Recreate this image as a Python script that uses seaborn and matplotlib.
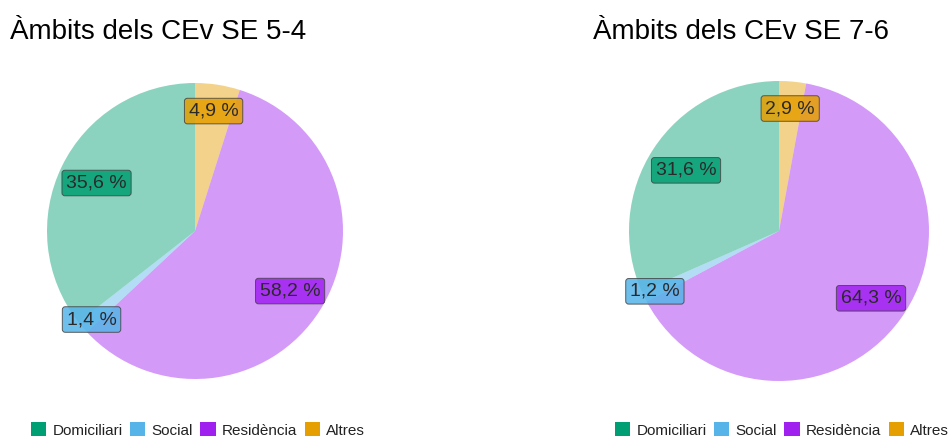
import matplotlib
matplotlib.use("Agg")
import matplotlib.pyplot as plt
from matplotlib.patches import Patch
import numpy as np
import seaborn as sns

# ---- data ----
categories = ["Domiciliari", "Social", "Residència", "Altres"]
colors = ["#009E73", "#56B4E9", "#A020F0", "#E69F00"]
titles = ["Àmbits dels CEv SE 5-4", "Àmbits dels CEv SE 7-6"]
values_54 = [35.6, 1.4, 58.2, 4.9]
values_76 = [31.6, 1.2, 64.3, 2.9]

sns.set_theme(style="white")
plt.rcParams["font.family"] = ["Liberation Sans", "DejaVu Sans"]

W, H = 952, 437
fig = plt.figure(figsize=(W / 100, H / 100), dpi=100)

# drawing order clockwise from 12 o'clock
order = [3, 2, 1, 0]
label_r = [0.74, 0.92, 0.76, 0.82]

panels = [
    dict(vals=values_54, title=titles[0], cx=195, cy=231, R=148, tx=10, lx=198),
    dict(vals=values_76, title=titles[1], cx=779, cy=231, R=150, tx=593, lx=782),
]

def fmt(v):
    return f"{v:.1f} %".replace(".", ",")

for p in panels:
    cx, cy, R = p["cx"], p["cy"], p["R"]
    ax = fig.add_axes([(cx - R) / W, (H - cy - R) / H, 2 * R / W, 2 * R / H])
    vals = [p["vals"][i] for i in order]
    cols = [colors[i] for i in order]
    wedges, _ = ax.pie(vals, colors=cols, startangle=90, counterclock=False,
                       radius=1, wedgeprops=dict(linewidth=0, alpha=0.45))
    ax.set_xlim(-1, 1)
    ax.set_ylim(-1, 1)
    ax.axis("off")
    total = sum(vals)
    cum = 0
    for k, i in enumerate(order):
        v = p["vals"][i]
        mid = (cum + v / 2) / total * 360
        cum += v
        th = np.deg2rad(90 - mid)
        r = label_r[i]
        ax.text(r * np.cos(th), r * np.sin(th), fmt(v), ha="center", va="center",
                fontsize=14, color="#2a2a2a", clip_on=False,
                bbox=dict(boxstyle="round,pad=0.22,rounding_size=0.15",
                          facecolor=colors[i], alpha=0.85, edgecolor="#444444",
                          linewidth=0.7))
    fig.text(p["tx"] / W, 1 - 32 / H, p["title"], fontsize=20, ha="left",
             va="center", color="black")
    handles = [Patch(facecolor=c, edgecolor="none") for c in colors]
    fig.legend(handles, categories, loc="center", ncol=4,
               bbox_to_anchor=(p["lx"] / W, 1 - 430 / H), frameon=False,
               fontsize=11, handlelength=1.0, handleheight=1.0,
               handletextpad=0.4, columnspacing=0.5, borderpad=0,
               labelcolor="#222222")

fig.savefig("out.png", dpi=100)
